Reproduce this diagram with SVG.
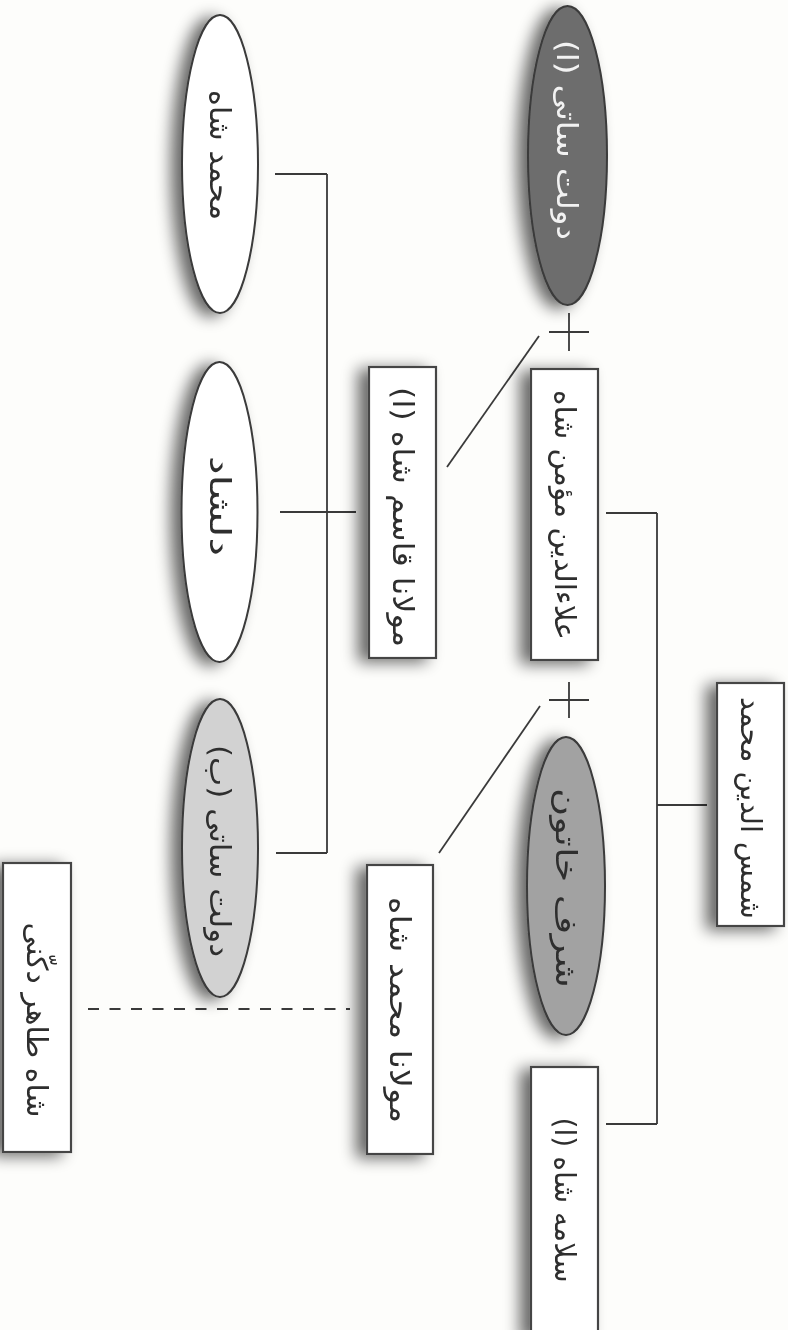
<svg xmlns="http://www.w3.org/2000/svg" width="788" height="1330" viewBox="0 0 788 1330">
<defs>
<filter id="sh" x="-50%" y="-15%" width="180%" height="130%">
<feGaussianBlur in="SourceAlpha" stdDeviation="8" result="b"/>
<feOffset in="b" dx="-10" dy="3" result="o"/>
<feComponentTransfer in="o" result="s"><feFuncA type="linear" slope="0.6"/></feComponentTransfer>
<feMerge><feMergeNode in="s"/><feMergeNode in="SourceGraphic"/></feMerge>
</filter>
<style>
.box{fill:#ffffff;stroke:#454545;stroke-width:2.2}
.ell{stroke:#3a3a3a;stroke-width:2}
.w{fill:#ffffff}
.g1{fill:#6d6d6d}
.g2{fill:#a2a2a2}
.g3{fill:#d2d2d2}
.t{font-family:"DejaVu Sans","Noto Sans",sans-serif;font-size:29px;fill:#2e2e2e;text-anchor:middle}
.tw{fill:#f2f2f2}
.ln{stroke:#3a3a3a;stroke-width:1.8;fill:none}
.dash{stroke:#3a3a3a;stroke-width:1.8;fill:none;stroke-dasharray:11 10.5}
</style>
</defs>
<rect x="0" y="0" width="788" height="1330" fill="#fdfdfb"/>

<g id="connectors">
<path class="ln" d="M707 805 H657 M657 513 V1124 M606 513 H657 M606 1124 H657"/>
<path class="ln" d="M549 332 H589 M569 313 V351"/>
<path class="ln" d="M549 700 H589 M569 682 V718"/>
<path class="ln" d="M539 336 L447 467"/>
<path class="ln" d="M540 706 L439 853"/>
<path class="ln" d="M327 174 V853 M275 174 H327 M280 512 H356 M276 853 H327"/>
<path class="dash" d="M88 1009 H350"/>
</g>

<g id="n-dowlat-a" filter="url(#sh)">
<ellipse class="ell g1" cx="567.5" cy="155.5" rx="39.5" ry="149.5"/>
<text class="t tw" transform="translate(567,140) rotate(90)" y="10" textLength="200" lengthAdjust="spacingAndGlyphs">دولت ساتی (ا)</text>
</g>

<g id="n-alaeddin" filter="url(#sh)">
<rect class="box" x="531" y="369" width="67" height="291"/>
<text class="t" transform="translate(565,515) rotate(90)" y="10" textLength="250" lengthAdjust="spacingAndGlyphs">علاءالدین مؤمن شاه</text>
</g>

<g id="n-sharaf" filter="url(#sh)">
<ellipse class="ell g2" cx="566" cy="886" rx="39" ry="149"/>
<text class="t" transform="translate(566,888) rotate(90)" y="10" textLength="200" lengthAdjust="spacingAndGlyphs">شرف خاتون</text>
</g>

<g id="n-salameh" filter="url(#sh)">
<rect class="box" x="531" y="1067" width="67" height="270"/>
<text class="t" transform="translate(565,1200) rotate(90)" y="10" textLength="165" lengthAdjust="spacingAndGlyphs">سلامه شاه (ا)</text>
</g>

<g id="n-shams" filter="url(#sh)">
<rect class="box" x="717" y="683" width="67" height="243"/>
<text class="t" transform="translate(751,808) rotate(90)" y="10" textLength="222" lengthAdjust="spacingAndGlyphs">شمس الدین محمد</text>
</g>

<g id="n-qasim" filter="url(#sh)">
<rect class="box" x="369" y="367" width="67" height="291"/>
<text class="t" transform="translate(403,517) rotate(90)" y="10" textLength="260" lengthAdjust="spacingAndGlyphs">مولانا قاسم شاه (ا)</text>
</g>

<g id="n-mohammad-mowlana" filter="url(#sh)">
<rect class="box" x="367" y="865" width="66" height="289"/>
<text class="t" transform="translate(400,1010) rotate(90)" y="10" textLength="226" lengthAdjust="spacingAndGlyphs">مولانا محمد شاه</text>
</g>

<g id="n-taher" filter="url(#sh)">
<rect class="box" x="3" y="863" width="68" height="289"/>
<text class="t" transform="translate(37,1020) rotate(90)" y="10" textLength="195" lengthAdjust="spacingAndGlyphs">شاه طاهر دکّنی</text>
</g>

<g id="n-mohammadshah" filter="url(#sh)">
<ellipse class="ell w" cx="220" cy="164" rx="38" ry="149"/>
<text class="t" transform="translate(220,155) rotate(90)" y="10" textLength="130" lengthAdjust="spacingAndGlyphs">محمد شاه</text>
</g>

<g id="n-delshad" filter="url(#sh)">
<ellipse class="ell w" cx="219.5" cy="512" rx="38" ry="150"/>
<text class="t" transform="translate(220,506) rotate(90)" y="10" textLength="100" lengthAdjust="spacingAndGlyphs">دلشاد</text>
</g>

<g id="n-dowlat-b" filter="url(#sh)">
<ellipse class="ell g3" cx="220" cy="848" rx="38" ry="149"/>
<text class="t" transform="translate(220,851) rotate(90)" y="10" textLength="212" lengthAdjust="spacingAndGlyphs">دولت ساتی (ب)</text>
</g>
</svg>
